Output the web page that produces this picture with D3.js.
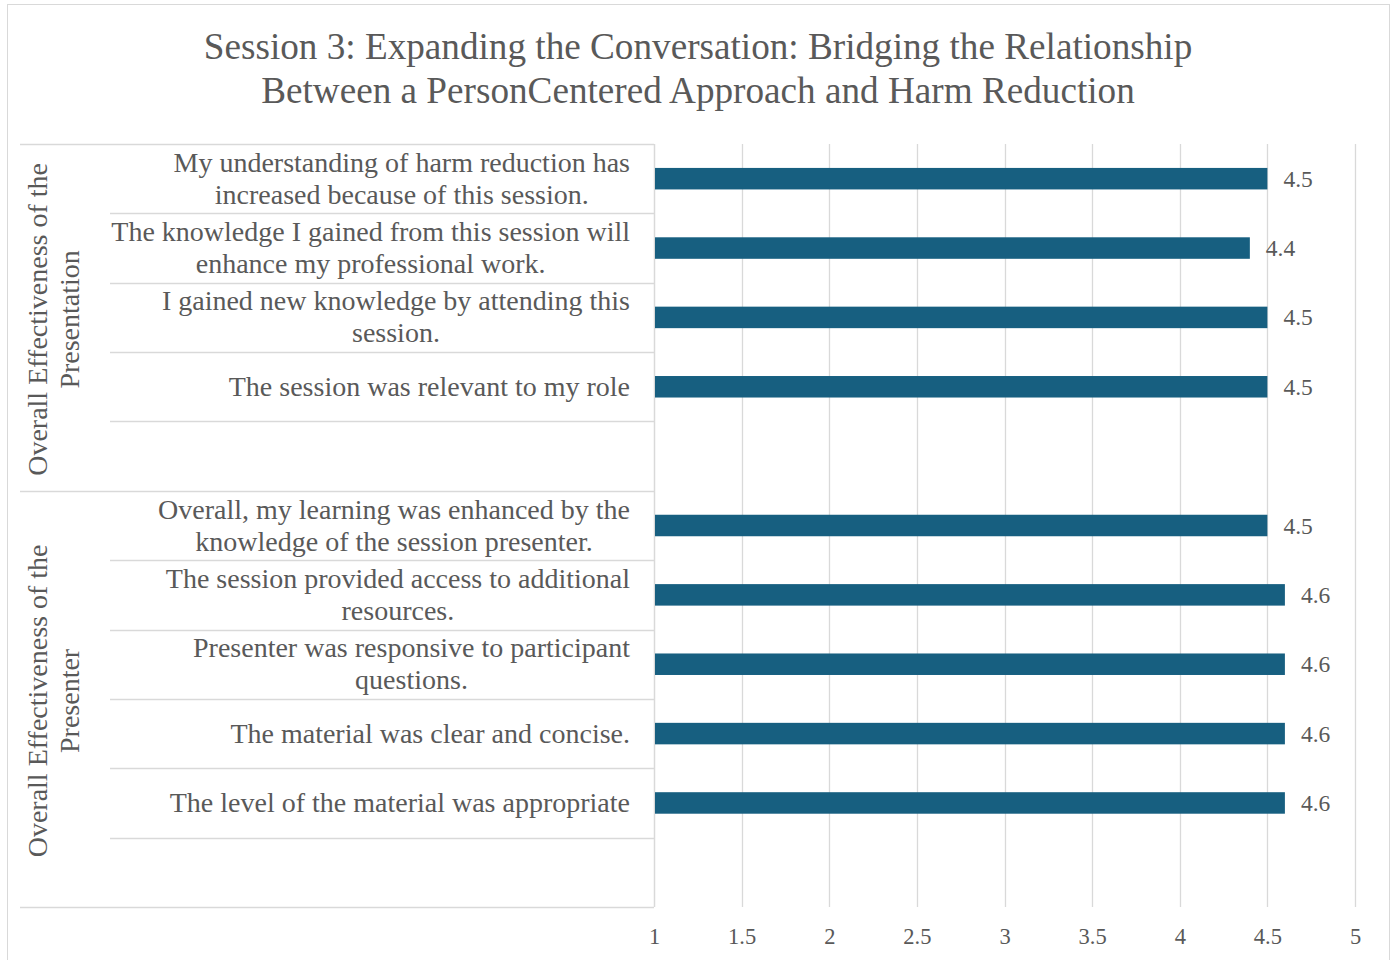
<!DOCTYPE html>
<html>
<head>
<meta charset="utf-8">
<script src="https://cdn.jsdelivr.net/npm/d3@7"></script>
<style>
  html, body { margin: 0; padding: 0; background: #ffffff; }
  svg { display: block; }
  text { font-family: "Liberation Serif", "Times New Roman", serif; fill: #595959; }
</style>
</head>
<body>
<svg id="chart" width="1396" height="960"></svg>
<script>
// ---- data ----
const titleLines = [
  "Session 3: Expanding the Conversation: Bridging the Relationship",
  "Between a PersonCentered Approach and Harm Reduction"
];
const categories = [
  ["My understanding of harm reduction has", "increased because of this session."],
  ["The knowledge I gained from this session will", "enhance my professional work."],
  ["I gained new knowledge by attending this", "session."],
  ["The session was relevant to my role"],
  [],
  ["Overall, my learning was enhanced by the", "knowledge of the session presenter."],
  ["The session provided access to additional", "resources."],
  ["Presenter was responsive to participant", "questions."],
  ["The material was clear and concise."],
  ["The level of the material was appropriate"],
  []
];
const values = [4.5, 4.4, 4.5, 4.5, null, 4.5, 4.6, 4.6, 4.6, 4.6, null];
const groupNames = [
  ["Overall Effectiveness of the", "Presentation"],
  ["Overall Effectiveness of the", "Presenter"]
];
const groupStarts = [0, 5];
const groupEnds = [5, 11];
const xTicks = [1, 1.5, 2, 2.5, 3, 3.5, 4, 4.5, 5];

// ---- layout ----
const svg = d3.select("#chart");
const plot = { left: 654, right: 1355, top: 144, bottom: 907 };
const gridColor = "#d9d9d9";
const barColor = "#175f80";

// chart border
svg.append("rect")
  .attr("x", 7.5).attr("y", 4.5).attr("width", 1382).attr("height", 970)
  .attr("fill", "#fff").attr("stroke", "#d9d9d9").attr("stroke-width", 1);

// title
svg.append("text")
  .attr("text-anchor", "middle")
  .attr("font-size", 37.2)
  .selectAll("tspan").data(titleLines).join("tspan")
  .attr("x", 698).attr("y", (d, i) => 59 + i * 44)
  .text(d => d);

const x = d3.scaleLinear().domain([1, 5]).range([plot.left, plot.right]);
const y = d3.scaleBand().domain(d3.range(categories.length)).range([plot.top, plot.bottom]).padding(0);
const barH = y.bandwidth() * 0.31;

// vertical gridlines
svg.append("g").selectAll("line").data(xTicks.slice(1)).join("line")
  .attr("x1", d => Math.round(x(d)) + 0.5).attr("x2", d => Math.round(x(d)) + 0.5)
  .attr("y1", plot.top).attr("y2", plot.bottom)
  .attr("stroke", gridColor).attr("stroke-width", 1.3);

// category axis lines (horizontal separators)
const sepG = svg.append("g");
d3.range(categories.length + 1).forEach(i => {
  const yy = i < categories.length ? y(i) : plot.bottom;
  const isGroup = groupStarts.includes(i) || i === categories.length;
  sepG.append("line")
    .attr("x1", isGroup ? 20 : 110).attr("x2", plot.left)
    .attr("y1", Math.round(yy) + 0.5).attr("y2", Math.round(yy) + 0.5)
    .attr("stroke", gridColor).attr("stroke-width", 1.5);
});
sepG.append("line")
  .attr("x1", plot.left + 0.5).attr("x2", plot.left + 0.5)
  .attr("y1", plot.top).attr("y2", plot.bottom)
  .attr("stroke", gridColor).attr("stroke-width", 1.5);

// bars
const idx = d3.range(values.length).filter(i => values[i] != null);
svg.append("g").selectAll("rect").data(idx).join("rect")
  .attr("x", plot.left + 1)
  .attr("y", i => y(i) + y.bandwidth() / 2 - barH / 2)
  .attr("width", i => x(values[i]) - plot.left - 1)
  .attr("height", barH)
  .attr("fill", barColor);

// data labels
svg.append("g").selectAll("text").data(idx).join("text")
  .attr("x", i => x(values[i]) + 16)
  .attr("y", i => y(i) + y.bandwidth() / 2 + 8)
  .attr("font-size", 23.5)
  .text(i => values[i].toFixed(1));

// category labels
const labG = svg.append("g").attr("font-size", 28);
categories.forEach((lines, i) => {
  if (!lines.length) return;
  const t = labG.append("text").attr("text-anchor", "middle");
  const tsp = t.selectAll("tspan").data(lines).join("tspan").text(d => d);
  let maxW = 0;
  tsp.each(function () { maxW = Math.max(maxW, this.getComputedTextLength()); });
  const cx = 630 - maxW / 2;
  const cy = y(i) + y.bandwidth() / 2;
  const lh = 32;
  const n = lines.length;
  tsp.attr("x", cx).attr("y", (d, k) => cy + (k - (n - 1) / 2) * lh + 9);
});

// group labels (rotated)
groupNames.forEach((lines, g) => {
  const cy = (y(groupStarts[g]) + (groupEnds[g] < categories.length ? y(groupEnds[g]) : plot.bottom)) / 2;
  const t = svg.append("text")
    .attr("text-anchor", "middle")
    .attr("font-size", 28)
    .attr("transform", `translate(0,${cy + 2}) rotate(-90)`);
  t.selectAll("tspan").data(lines).join("tspan")
    .attr("x", 0).attr("y", (d, k) => 47 + k * 32)
    .text(d => d);
});

// x axis
const xAxis = d3.axisBottom(x).tickValues(xTicks).tickSize(0).tickPadding(0)
  .tickFormat(d => String(d));
const ax = svg.append("g").attr("transform", `translate(0,${plot.bottom})`).call(xAxis);
ax.select(".domain").remove();
ax.selectAll("text")
  .attr("dy", null).attr("y", 37)
  .attr("font-size", 22.5)
  .attr("font-family", "Liberation Serif, serif")
  .attr("fill", "#595959");
</script>
</body>
</html>
